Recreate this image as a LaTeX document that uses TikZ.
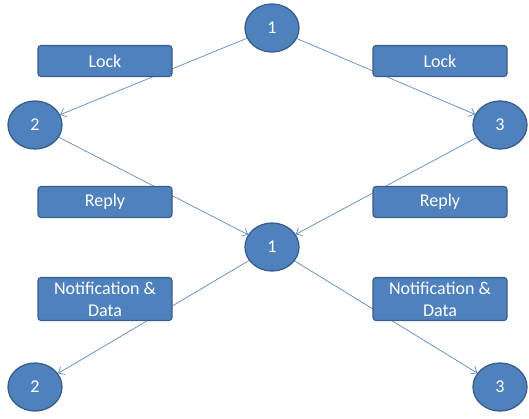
\documentclass[tikz,border=0pt]{standalone}
\usepackage{fontspec}
\setmainfont{Carlito}
\usetikzlibrary{arrows.meta,shapes.geometric}
\definecolor{fillblue}{HTML}{4F81BD}
\definecolor{edgeblue}{HTML}{385D8A}
\definecolor{lineblue}{HTML}{5A8AC6}
\begin{document}
\begin{tikzpicture}[x=1pt,y=-1pt,
  proc/.style={ellipse,draw=edgeblue,line width=1.3pt,fill=fillblue,text=white,
    minimum width=54pt,minimum height=48pt,inner sep=0pt,font=\fontsize{18}{20}\selectfont},
  msg/.style={rectangle,rounded corners=3pt,draw=edgeblue,line width=1.1pt,fill=fillblue,text=white,
    minimum width=134pt,inner sep=0pt,align=center,font=\fontsize{18}{22}\selectfont},
  conn/.style={draw=lineblue,line width=0.7pt,-{Straight Barb[length=5pt,width=9pt]}}]
\useasboundingbox (0,0) rectangle (529,418);
% process nodes
\node[proc] (t1) at (272,28) {1};
\node[proc] (t2) at (35,125) {2};
\node[proc] (t3) at (500,125) {3};
\node[proc] (m1) at (272,247) {1};
\node[proc] (b2) at (35,387) {2};
\node[proc] (b3) at (500,387) {3};
% connectors (behind boxes)
\draw[conn] (t1) -- (t2);
\draw[conn] (t1) -- (t3);
\draw[conn] (t2) -- (m1);
\draw[conn] (t3) -- (m1);
\draw[conn] (m1) -- (b2);
\draw[conn] (m1) -- (b3);
% message boxes
\node[msg,minimum height=31pt] (lockl) at (105,61) {Lock};
\node[msg,minimum height=31pt] (lockr) at (440,61) {Lock};
\node[msg,minimum height=31pt] (replyl) at (105,202) {Reply};
\node[msg,minimum height=31pt] (replyr) at (440,202) {Reply};
\node[msg,minimum height=43pt] (notl) at (105,299) {Notification \&\\Data};
\node[msg,minimum height=43pt] (notr) at (440,299) {Notification \&\\Data};
\end{tikzpicture}
\end{document}
